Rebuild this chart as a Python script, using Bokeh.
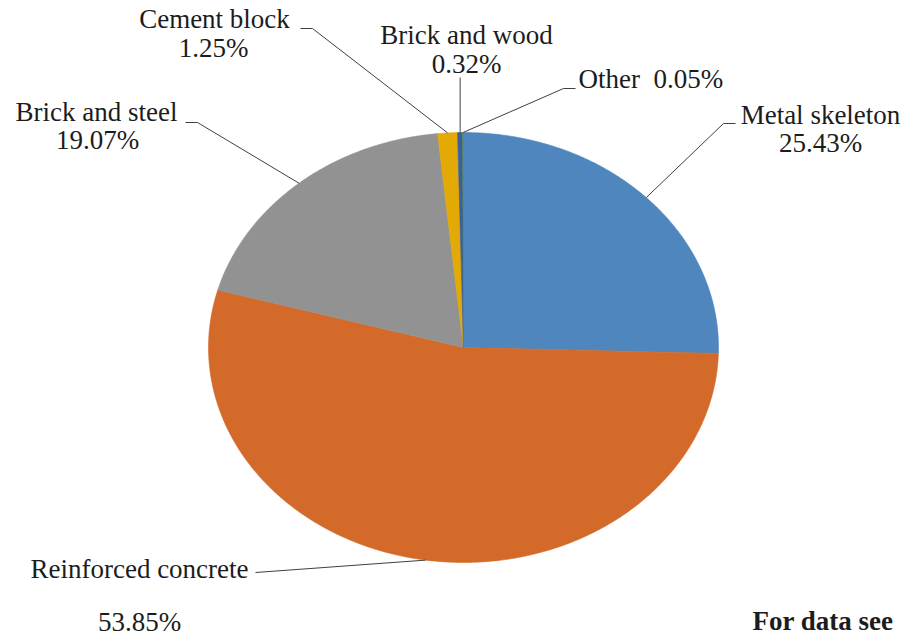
import numpy as np
from bokeh.plotting import figure
from bokeh.models import Range1d, ColumnDataSource
from bokeh.core.properties import value
from bokeh.embed import file_html
from bokeh.resources import INLINE

# ---- data ----
categories = ["Metal skeleton", "Reinforced concrete", "Brick and steel",
              "Cement block", "Brick and wood", "Other"]
shares = [25.43, 53.85, 19.07, 1.25, 0.32, 0.05]
colors = ["#4F86BE", "#D46A2A", "#929292", "#E3AA06", "#3A5FA0", "#5E8F3A"]
pct_labels = ["%.2f%%" % v for v in shares]
footnote = "For data see"

# ---- layout (pixel coordinates of the reference) ----
W, H = 909, 639
CX, CY, RX, RY = 463, 347, 255, 215
FONT = "serif"
FS = "27px"
DY = -9  # compensates the renderer's baseline offset

p = figure(width=W, height=H, x_range=Range1d(0, W), y_range=Range1d(H, 0),
           output_backend="svg", toolbar_location=None, min_border=0,
           x_axis_type=None, y_axis_type=None)
p.grid.visible = False
p.outline_line_color = None
p.background_fill_color = "white"
p.border_fill_color = "white"

total = float(sum(shares))
starts = np.cumsum([0] + shares[:-1]) / total * 2 * np.pi
ends = np.cumsum(shares) / total * 2 * np.pi

def ept(theta):
    return CX + RX * np.sin(theta), CY - RY * np.cos(theta)

xs, ys = [], []
for a0, a1 in zip(starts, ends):
    n = max(3, int((a1 - a0) / (2 * np.pi) * 720))
    t = np.linspace(a0, a1, n)
    ex, ey = ept(t)
    xs.append([CX] + list(ex))
    ys.append([CY] + list(ey))

src = ColumnDataSource(dict(xs=xs, ys=ys, color=colors, name=categories))
p.patches("xs", "ys", source=src, fill_color="color", line_color="color", line_width=0.6)

# leader lines: start at slice mid-angle on the rim, then elbow and end near label
mids = (starts + ends) / 2
elbows = {
    "Metal skeleton": [(723, 123), (735, 123)],
    "Reinforced concrete": [(255, 572)],
    "Brick and steel": [(197, 122), (185, 122)],
    "Cement block": [(312, 28), (300, 28)],
    "Other": [(563, 88), (575, 88)],
}
for i, c in enumerate(categories):
    sx, sy = ept(mids[i])
    if c == "Brick and wood":
        lx = [sx, sx]
        ly = [sy, 77]
    else:
        pts = elbows[c]
        lx = [sx] + [q[0] for q in pts]
        ly = [sy] + [q[1] for q in pts]
    p.line(lx, ly, line_color="#404040", line_width=1)

# labels: (name center x, name baseline, pct center x, pct baseline)
label_pos = {
    "Metal skeleton": (820, 123, 820, 151),
    "Reinforced concrete": (139, 577, 139, 630),
    "Brick and steel": (96, 120, 97, 148),
    "Cement block": (214, 27, 213, 56),
    "Brick and wood": (466, 43, 466, 72),
}
nx, ny, px_, py_, nt, pt = [], [], [], [], [], []
for i, c in enumerate(categories):
    if c in label_pos:
        a, b, cc, d = label_pos[c]
        nx.append(a); ny.append(b + DY); nt.append(c)
        px_.append(cc); py_.append(d + DY); pt.append(pct_labels[i])

common = dict(text_font=value(FONT), text_font_size=FS, text_color="#1c1c1c",
              text_baseline="alphabetic")
p.text(nx, ny, text=nt, text_align="center", **common)
p.text(px_, py_, text=pt, text_align="center", **common)
oi = categories.index("Other")
p.text([578], [87 + DY], text=[categories[oi] + "\u00a0\u00a0" + pct_labels[oi]],
       text_align="left", **common)

p.text([752], [629 + DY], text=[footnote], text_align="left", text_font_style="bold", **common)

open("out.html", "w").write(file_html(p, INLINE))
